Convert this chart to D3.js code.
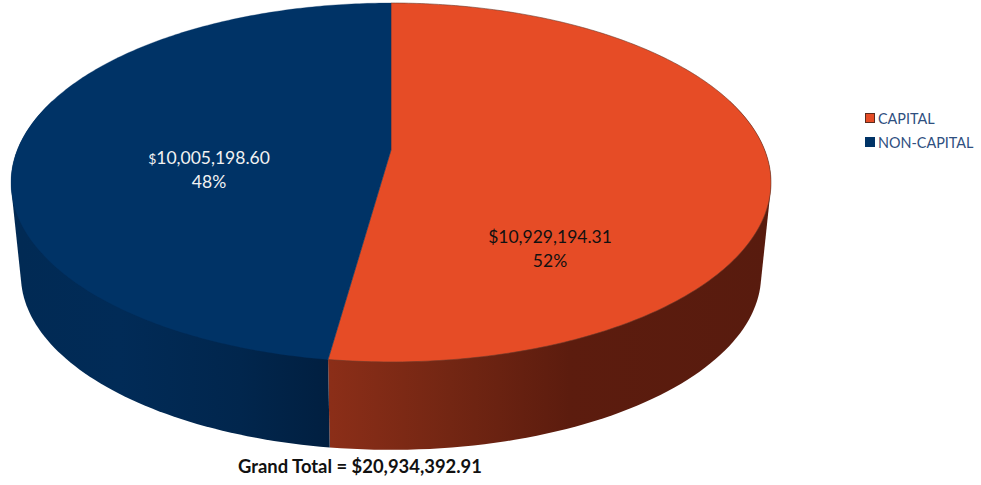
<!DOCTYPE html>
<html>
<head>
<meta charset="utf-8">
<script src="https://cdn.jsdelivr.net/npm/d3@7"></script>
<style>
  html, body { margin: 0; padding: 0; background: #fff; }
  text { font-family: Lato, "Open Sans", sans-serif; }
</style>
</head>
<body>
<svg id="my_svg"></svg>
<script>
const width = 981;
const height = 485;

const categories = ["CAPITAL", "NON-CAPITAL"];
const amounts = [10929194.31, 10005198.60];
const amountLabels = ["$10,929,194.31", "$10,005,198.60"];
const percentLabels = ["52%", "48%"];
const topColors = ["#e64c26", "#003366"];
const labelColors = ["#111111", "#f2f2f2"];
const grandTotal = "Grand Total = $20,934,392.91";

const svg = d3.select('#my_svg')
  .attr('width', width)
  .attr('height', height)
  .style('display', 'block');

// the pie lies tilted, so a circle in the plane is put through a perspective
const tilt = -0.181;
function rim(ring, angle) {
  let u = Math.sin(angle), v = -Math.cos(angle);
  let w = 1 + tilt * v;
  return [ring.cx + ring.b * u / w, ring.cy + ring.a * v / w];
}
const topRing = { cx: 391, cy: 150, b: 373.7, a: 173.6 };
const baseRing = { cx: 391, cy: 243.5, b: 364, a: 169 };

const arcs = d3.pie().sort(null).value(d => d)(amounts);

// 3d side wall, only the part facing the viewer
const defs = svg.append('defs');
const wallStops = [
  [[330, "#8b2e18"], [450, "#732613"], [570, "#5c1c0e"], [770, "#581b0e"]],
  [[20, "#012a54"], [120, "#012b57"], [240, "#01264d"], [330, "#011f40"]]
];
wallStops.forEach((stops, i) => {
  let g = defs.append('linearGradient')
    .attr('id', 'wall' + i)
    .attr('gradientUnits', 'userSpaceOnUse')
    .attr('x1', 11).attr('x2', 771).attr('y1', 0).attr('y2', 0);
  stops.forEach(s => {
    g.append('stop')
      .attr('offset', (s[0] - 11) / 760)
      .attr('stop-color', s[1]);
  });
});

const steps = d3.range(0, 1.0001, 1 / 80);
const wallRange = [
  [Math.PI / 2 - 0.3, arcs[0].endAngle],
  [arcs[1].startAngle, Math.PI * 1.5 + 0.3]
];
wallRange.forEach((r, i) => {
  let pts = [];
  steps.forEach(t => {
    let a = r[0] + (r[1] - r[0]) * t;
    pts.push(rim(topRing, a));
    pts.push(rim(baseRing, a));
  });
  svg.append('path')
    .attr('d', 'M' + d3.polygonHull(pts).join('L') + 'Z')
    .attr('fill', `url(#wall${i})`);
});

// top faces
const line = d3.line();
arcs.forEach((d, i) => {
  let pts = [[topRing.cx, topRing.cy]];
  d3.range(0, 1.0001, 1 / 240).forEach(t => {
    pts.push(rim(topRing, d.startAngle + (d.endAngle - d.startAngle) * t));
  });
  svg.append('path')
    .attr('d', line(pts) + 'Z')
    .attr('fill', topColors[i])
    .attr('stroke', i == 0 ? '#6b3a2c' : topColors[i])
    .attr('stroke-width', i == 0 ? 0.6 : 0.3);
});

// data labels
const labelPos = [[550, 243], [209, 164]];
arcs.forEach((d, i) => {
  let amount = svg.append('text')
    .attr('x', labelPos[i][0]).attr('y', labelPos[i][1])
    .attr('text-anchor', 'middle')
    .attr('font-size', 17.5)
    .attr('fill', labelColors[i]);
  // the dollar sign on the blue slice is set smaller
  amount.append('tspan')
    .attr('font-size', i == 1 ? 14 : 17.5)
    .text(amountLabels[i][0]);
  amount.append('tspan').text(amountLabels[i].slice(1));
  svg.append('text')
    .attr('x', labelPos[i][0]).attr('y', labelPos[i][1] + 24)
    .attr('text-anchor', 'middle')
    .attr('font-size', 17.5)
    .attr('fill', labelColors[i])
    .text(percentLabels[i]);
});

// legend
const legend = svg.selectAll('.legend')
  .data(categories).join('g')
  .attr('class', 'legend')
  .attr('transform', (d, i) => `translate(865,${113 + i * 24})`);
legend.append('rect')
  .attr('x', 0.5).attr('y', 0.5)
  .attr('width', 9).attr('height', 9)
  .attr('fill', (d, i) => topColors[i])
  .attr('stroke', (d, i) => i == 0 ? '#5c2c1e' : topColors[i]);
legend.append('text')
  .attr('x', 13).attr('y', 10.5)
  .attr('font-size', 14.4)
  .attr('fill', '#2f4f7f')
  .text(d => d);

svg.append('text')
  .attr('x', 360).attr('y', 473)
  .attr('text-anchor', 'middle')
  .attr('font-size', 18.4)
  .attr('font-weight', 'bold')
  .attr('fill', '#111111')
  .text(grandTotal);
</script>
</body>
</html>
